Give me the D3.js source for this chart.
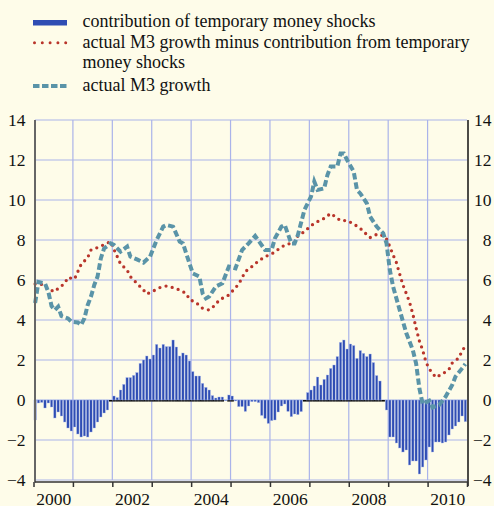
<!DOCTYPE html>
<html>
<head>
<meta charset="utf-8">
<script src="https://cdn.jsdelivr.net/npm/d3@7"></script>
<style>
	body { margin: 0; background: #fefce9; }
	svg { display: block; font-family: 'Liberation Serif', 'Times New Roman', serif; }
</style>
</head>
<body>
<svg class="display"></svg>
<script>
//monthly contribution of temporary money shocks, Jan 2000 - Dec 2010
const barValues = [
	-1.0, -0.15, -0.12, -0.4, -0.15, -0.35, -0.9, -0.6, -0.8, -1.1, -1.4, -1.55,
	-1.35, -1.7, -1.85, -1.8, -1.85, -1.6, -1.4, -1.1, -0.85, -0.65, -0.5, 0,
	0.2, 0.12, 0.5, 0.78, 1.12, 1.12, 1.23, 1.37, 1.83, 2.0, 2.2, 2.05,
	2.25, 2.78, 2.6, 2.78, 2.67, 2.67, 3.0, 2.65, 2.2, 2.35, 2.25, 1.95,
	1.42, 1.2, 1.2, 0.83, 0.63, 0.5, 0.22, 0.1, 0.15, 0.15, -0.03, 0.25,
	0.2, -0.05, -0.33, -0.33, -0.57, -0.3, -0.08, -0.08, -0.13, -0.77, -0.92, -1.17,
	-1.03, -1.0, -0.6, -0.3, -0.2, -0.57, -0.83, -0.7, -0.73, -0.58, 0, 0.37,
	0.5, 0.7, 1.15, 0.75, 1.03, 1.25, 1.58, 1.75, 2.17, 2.88, 3.0, 2.55,
	2.8, 2.72, 2.08, 2.47, 2.33, 2.17, 2.3, 1.87, 1.22, 0.95, 0, -0.5,
	-1.85, -1.85, -2.15, -2.4, -2.6, -2.5, -3.25, -3.05, -3.05, -3.7, -3.35, -3.0,
	-2.35, -2.6, -2.1, -2.1, -2.15, -2.1, -1.75, -1.45, -1.3, -1.1, -0.8, -1.08
];

//actual M3 growth minus contribution from temporary money shocks (month index from Jan 2000)
const redMonths = [0, 2, 4, 6, 7, 9, 10, 12, 13, 14, 16, 17, 18, 19, 21, 23, 24, 25, 26, 28, 29, 31, 33, 34, 36, 38, 40, 42, 44, 46, 47, 49, 51, 53, 55, 56, 59, 62, 64, 66, 68, 70, 72, 74, 76, 79, 80, 82, 84, 86, 88, 90, 93, 95, 97, 99, 100, 102, 104, 105, 107, 108, 109, 110, 111, 112, 113, 114, 115, 116, 117, 118, 119, 120, 121, 122, 124, 126, 127, 129, 130, 131];
const redValues = [5.8, 5.78, 5.53, 5.42, 5.58, 5.83, 6.13, 6.05, 6.42, 6.78, 7.12, 7.5, 7.58, 7.62, 7.77, 7.92, 7.53, 7.17, 6.8, 6.5, 6.17, 5.83, 5.5, 5.3, 5.45, 5.62, 5.7, 5.62, 5.5, 5.33, 5.03, 4.87, 4.58, 4.5, 4.77, 5.0, 5.25, 5.8, 6.42, 6.67, 6.95, 7.17, 7.3, 7.53, 7.75, 7.88, 8.2, 8.42, 8.72, 8.92, 9.08, 9.33, 8.97, 8.97, 8.8, 8.58, 8.42, 8.12, 8.28, 8.3, 8.05, 7.67, 7.25, 6.87, 6.3, 5.75, 5.33, 4.9, 4.3, 3.6, 2.95, 2.5, 1.9, 1.55, 1.35, 1.13, 1.3, 1.53, 1.85, 2.1, 2.45, 2.7];

//actual M3 growth
const tealMonths = [0, 1, 3, 4, 5, 6, 7, 8, 10, 11, 13, 14, 15, 16, 17, 18, 19, 20, 21, 23, 24, 26, 28, 29, 31, 33, 35, 37, 39, 40, 42, 44, 45, 47, 48, 50, 51, 52, 53, 55, 57, 59, 61, 63, 65, 67, 68, 70, 72, 73, 75, 76, 78, 79, 80, 82, 84, 85, 86, 88, 89, 90, 92, 93, 94, 95, 97, 98, 99, 101, 102, 104, 106, 107, 108, 109, 110, 111, 112, 113, 115, 116, 117, 118, 120, 121, 123, 125, 127, 128, 130, 131];
const tealValues = [4.85, 5.9, 5.83, 5.42, 4.7, 4.5, 4.67, 4.2, 4.08, 3.92, 3.88, 3.75, 4.08, 4.75, 5.17, 5.75, 6.17, 7.08, 7.58, 7.83, 7.75, 7.42, 7.67, 7.17, 7.03, 6.87, 7.17, 8.0, 8.67, 8.75, 8.67, 7.92, 7.83, 6.83, 6.33, 6.17, 5.33, 5.08, 5.17, 5.67, 5.83, 6.67, 6.58, 7.5, 7.83, 8.2, 7.97, 7.5, 7.5, 8.08, 8.67, 8.75, 7.83, 7.83, 8.25, 9.5, 10.17, 10.92, 10.5, 10.58, 11.25, 11.67, 11.67, 12.33, 12.33, 12.0, 11.42, 10.5, 10.33, 9.83, 9.17, 8.67, 8.33, 7.83, 6.5, 5.67, 5.08, 4.5, 3.92, 3.35, 2.5, 1.83, 0.58, -0.2, -0.03, -0.37, -0.25, 0.17, 0.75, 1.17, 1.58, 1.8];

const yTicks = [-4, -2, 0, 2, 4, 6, 8, 10, 12, 14];
const yearTicks = [0, 12, 24, 36, 48, 60, 72, 84, 96, 108, 120, 132];
const yearLabels = ['2000', '2002', '2004', '2006', '2008', '2010'];
const legendLabels = [
	['contribution of temporary money shocks'],
	['actual M3 growth minus contribution from temporary', 'money shocks'],
	['actual M3 growth']
];

const totalWidth = 494,
	totalHeight = 506,
	plotLeft = 33.5,
	plotRight = 467,
	plotTop = 120,
	plotBottom = 480;

const blue = '#2f4db3',
	red = '#b9352b',
	teal = '#5a94a8',
	grid = '#aab3ea';

const svg = d3
	.select('.display')
	.attr('width', totalWidth)
	.attr('height', totalHeight);

//scales - x runs on month index (0 = Jan 2000, 132 = Jan 2011)
const xScale = d3.scaleLinear().domain([0, 132]).range([plotLeft, plotRight]);
const yScale = d3.scaleLinear().domain([-4, 14]).range([plotBottom, plotTop]);
const monthWidth = xScale(1) - xScale(0);

//grid lines
svg
	.append('g')
	.selectAll('line')
	.data(yTicks)
	.enter()
	.append('line')
	.attr('x1', 35)
	.attr('x2', plotRight)
	.attr('y1', (d) => yScale(d))
	.attr('y2', (d) => yScale(d))
	.attr('stroke', grid)
	.attr('stroke-width', 1.2);

svg
	.append('g')
	.selectAll('line')
	.data(yearTicks.slice(1, -1))
	.enter()
	.append('line')
	.attr('x1', (d) => xScale(d))
	.attr('x2', (d) => xScale(d))
	.attr('y1', plotTop)
	.attr('y2', plotBottom)
	.attr('stroke', grid)
	.attr('stroke-width', 1.2);

//black zero line under the positive bars
svg
	.append('g')
	.selectAll('line')
	.data(barValues.map((v, i) => [i, v]).filter((d) => d[1] >= 0))
	.enter()
	.append('line')
	.attr('x1', (d) => xScale(d[0]))
	.attr('x2', (d) => xScale(d[0] + 1))
	.attr('y1', yScale(0) + 0.8)
	.attr('y2', yScale(0) + 0.8)
	.attr('stroke', '#000')
	.attr('stroke-width', 1.5);

//bars
const barW = monthWidth * 0.72;
svg
	.append('g')
	.selectAll('rect')
	.data(barValues)
	.enter()
	.append('rect')
	.attr('x', (d, i) => xScale(i + 0.5) - barW / 2)
	.attr('y', (d) => yScale(Math.max(0, d)))
	.attr('width', barW)
	.attr('height', (d) => Math.abs(yScale(d) - yScale(0)))
	.attr('fill', blue)
	.attr('stroke', '#a9b8ee')
	.attr('stroke-width', 0.4);

//lines
const line = d3
	.line()
	.x((d) => xScale(d[0] + 0.5))
	.y((d) => yScale(d[1]));

svg
	.append('path')
	.datum(redMonths.map((m, i) => [m, redValues[i]]))
	.attr('d', line)
	.attr('fill', 'none')
	.attr('stroke', red)
	.attr('stroke-width', 3.3)
	.attr('stroke-linecap', 'round')
	.attr('stroke-dasharray', '0 6.3');

svg
	.append('path')
	.datum(tealMonths.map((m, i) => [m, tealValues[i]]))
	.attr('d', line)
	.attr('fill', 'none')
	.attr('stroke', teal)
	.attr('stroke-width', 4)
	.attr('stroke-dasharray', '6.5 3');

//left axis
const yAxisLeft = d3.axisLeft(yScale).tickValues(yTicks).tickSize(0).tickPadding(9.5);
const gLeft = svg
	.append('g')
	.attr('transform', 'translate(35,0)')
	.call(yAxisLeft);
gLeft.select('.domain').remove();
gLeft
	.append('line')
	.attr('y1', plotTop)
	.attr('y2', 482.5)
	.attr('stroke', '#666')
	.attr('stroke-width', 2);

//right axis
const yAxisRight = d3.axisRight(yScale).tickValues(yTicks).tickSize(0);
const gRight = svg
	.append('g')
	.attr('transform', 'translate(' + 468 + ',0)')
	.call(yAxisRight);
gRight.select('.domain').remove();
gRight.selectAll('text').attr('x', 23.5).attr('text-anchor', 'end');
gRight
	.append('line')
	.attr('y1', plotTop)
	.attr('y2', 486)
	.attr('stroke', '#111')
	.attr('stroke-width', 1.5);

//bottom axis with year ticks
const xAxis = d3.axisBottom(xScale).tickValues(yearTicks).tickSize(5).tickFormat('');
const gBottom = svg
	.append('g')
	.attr('transform', 'translate(0,482)')
	.call(xAxis);
gBottom.select('.domain').remove();
gBottom
	.append('line')
	.attr('x1', 35)
	.attr('x2', 468)
	.attr('stroke', '#333')
	.attr('stroke-width', 1.5);
gBottom.selectAll('.tick line').attr('stroke', '#333').attr('stroke-width', 1.5);

//year labels centred in every other year
const labelAxis = d3
	.axisBottom(xScale)
	.tickValues(yearLabels.map((d, i) => i * 24 + 6))
	.tickSize(0)
	.tickPadding(11)
	.tickFormat((d, i) => yearLabels[i]);
const gLabels = svg
	.append('g')
	.attr('transform', 'translate(0,482)')
	.call(labelAxis);
gLabels.select('.domain').remove();

svg
	.selectAll('.tick text')
	.style('font-family', "'Liberation Serif', serif")
	.style('font-size', '17.5px')
	.attr('fill', '#111');

//legend
const legend = svg.append('g');
const legendY = [26.5, 48, 90.5];

legend
	.append('rect')
	.attr('x', 33)
	.attr('y', 20)
	.attr('width', 34)
	.attr('height', 5.5)
	.attr('fill', blue);

legend
	.append('line')
	.attr('x1', 34.5)
	.attr('x2', 67)
	.attr('y1', 42.7)
	.attr('y2', 42.7)
	.attr('stroke', red)
	.attr('stroke-width', 3)
	.attr('stroke-linecap', 'round')
	.attr('stroke-dasharray', '0 7.8');

legend
	.append('line')
	.attr('x1', 33)
	.attr('x2', 67)
	.attr('y1', 86)
	.attr('y2', 86)
	.attr('stroke', teal)
	.attr('stroke-width', 3.8)
	.attr('stroke-dasharray', '6.5 2.5');

legendLabels.forEach((lines, i) => {
	lines.forEach((t, j) => {
		legend
			.append('text')
			.attr('x', 82.5)
			.attr('y', legendY[i] + j * 20)
			.style('font-size', '18px')
			.attr('fill', '#111')
			.text(t);
	});
});
</script>
</body>
</html>
